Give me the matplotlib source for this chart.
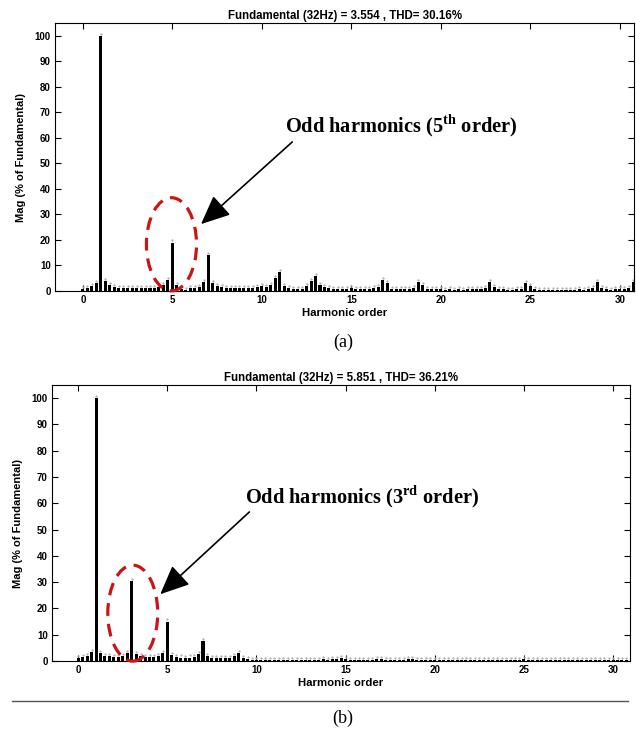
import numpy as np
import matplotlib
matplotlib.use("Agg")
import matplotlib.pyplot as plt
from matplotlib.patches import Ellipse
from matplotlib.lines import Line2D

plt.rcParams['font.family'] = ['Liberation Sans', 'DejaVu Sans']
plt.rcParams['mathtext.fontset'] = 'custom'
plt.rcParams['mathtext.rm'] = 'Liberation Serif:bold'
plt.rcParams['mathtext.bf'] = 'Liberation Serif:bold'

# harmonic bins (0.25 harmonic resolution)
harmonics = np.arange(0, 31, 0.25)

# (a) spectrum, % of fundamental
mag_a = [
    0.8, 1.2, 1.8, 3.2, 100, 4.0, 2.5, 1.5,          # 0 - 1.75
    1.2, 1.0, 1.0, 1.0, 1.0, 1.0, 1.0, 1.0,          # 2 - 3.75
    1.0, 1.5, 2.5, 4.2, 19.0, 2.2, 0.8, 0.5,         # 4 - 5.75
    1.0, 1.0, 1.5, 3.5, 14.0, 3.2, 1.8, 1.5,         # 6 - 7.75
    1.3, 1.2, 1.1, 1.1, 1.0, 1.1, 1.2, 1.5,          # 8 - 9.75
    1.8, 1.5, 2.5, 5.0, 7.5, 1.8, 1.0, 0.8,          # 10 - 11.75
    0.6, 0.8, 1.8, 4.0, 6.0, 2.2, 1.5, 1.0,          # 12 - 13.75
    0.8, 0.7, 0.8, 0.9, 1.0, 0.8, 0.8, 0.8,          # 14 - 15.75
    0.9, 1.0, 1.6, 4.2, 3.0, 0.8, 0.6, 0.6,          # 16 - 17.75
    0.6, 0.7, 1.0, 3.5, 2.5, 0.8, 0.6, 0.7,          # 18 - 19.75
    0.6, 0.5, 0.6, 0.5, 0.6, 0.5, 0.6, 0.7,          # 20 - 21.75
    0.6, 0.8, 1.2, 3.5, 1.5, 0.8, 0.6, 0.5,          # 22 - 23.75
    0.5, 0.6, 0.8, 3.0, 1.8, 0.6, 0.5, 0.5,          # 24 - 25.75
    0.4, 0.5, 0.4, 0.5, 0.5, 0.4, 0.5, 0.6,          # 26 - 27.75
    0.5, 0.6, 1.0, 3.5, 1.2, 0.6, 0.5, 0.6,          # 28 - 29.75
    0.7, 0.8, 1.2, 3.5,                              # 30 - 30.75
]

# (b) spectrum, % of fundamental
mag_b = [
    1.2, 1.5, 2.0, 3.5, 100, 3.0, 2.0, 1.8,          # 0 - 1.75
    1.5, 1.5, 1.8, 3.0, 30.5, 2.8, 2.0, 1.5,         # 2 - 3.75
    1.5, 1.5, 2.0, 3.0, 15.0, 2.2, 1.6, 1.3,         # 4 - 5.75
    1.2, 1.3, 1.5, 2.5, 7.5, 1.8, 1.2, 1.0,          # 6 - 7.75
    1.0, 1.0, 1.2, 1.8, 3.0, 1.0, 0.6, 0.5,          # 8 - 9.75
    0.5, 0.4, 0.5, 0.4, 0.5, 0.5, 0.4, 0.5,          # 10 - 11.75
    0.4, 0.5, 0.4, 0.4, 0.5, 0.4, 0.5, 0.6,          # 12 - 13.75
    0.5, 0.6, 0.9, 1.0, 0.8, 0.5, 0.4, 0.4,          # 14 - 15.75
    0.4, 0.5, 0.4, 0.6, 0.8, 0.5, 0.4, 0.4,          # 16 - 17.75
    0.5, 0.5, 0.7, 0.6, 0.4, 0.4, 0.3, 0.4,          # 18 - 19.75
    0.5, 0.4, 0.3, 0.4, 0.4, 0.3, 0.4, 0.4,          # 20 - 21.75
    0.3, 0.4, 0.4, 0.3, 0.4, 0.3, 0.4, 0.4,          # 22 - 23.75
    0.3, 0.4, 0.3, 0.4, 0.6, 0.4, 0.3, 0.4,          # 24 - 25.75
    0.3, 0.4, 0.3, 0.3, 0.4, 0.3, 0.4, 0.3,          # 26 - 27.75
    0.4, 0.3, 0.4, 0.5, 0.4, 0.3, 0.4, 0.3,          # 28 - 29.75
    0.4, 0.5, 0.4, 0.5,                              # 30 - 30.75
]

title_a = 'Fundamental (32Hz) = 3.554 , THD= 30.16%'
title_b = 'Fundamental (32Hz) = 5.851 , THD= 36.21%'
note_a = r'Odd harmonics (5$^{\mathrm{th}}$ order)'
note_b = r'Odd harmonics (3$^{\mathrm{rd}}$ order)'

fig = plt.figure(figsize=(6.36, 7.30), dpi=100)
W, H = 636.0, 730.0

def panel(rect, mags, title, xlim, note, note_xy, arrow_from, arrow_to, ell_c):
    ax = fig.add_axes(rect)
    ax.bar(harmonics, mags, width=0.17, color='black', edgecolor='none')
    # faint speckle left on top of the bins by the scope screenshot
    ax.plot(harmonics, np.array(mags) + 0.8, ls='none', marker='.', ms=1.2,
            color='#aaaaaa')
    ax.set_xlim(*xlim)
    ax.set_ylim(0, 105)
    ax.set_xticks(range(0, 31, 5))
    ax.set_yticks(range(0, 101, 10))
    ax.tick_params(direction='in', length=4, width=0.8, top=True, right=True,
                   labelsize=7, pad=3)
    for lab in ax.get_xticklabels() + ax.get_yticklabels():
        lab.set_fontweight('bold')
    for s in ax.spines.values():
        s.set_linewidth(0.8)
    ax.set_title(title, fontsize=8.3, fontweight='bold', pad=3)
    ax.set_xlabel('Harmonic order', fontsize=8.2, fontweight='bold', labelpad=2)
    ax.set_ylabel('Mag (% of Fundamental)', fontsize=8, fontweight='bold', labelpad=6)

    ax.add_patch(Ellipse(ell_c, 2.8, 36.5, fill=False, edgecolor='#cc1414',
                         lw=2.3, ls=(0, (4, 2.5)), clip_on=False, zorder=5))
    ax.annotate('', xy=arrow_to, xytext=arrow_from,
                arrowprops=dict(arrowstyle='-|>,head_length=0.9,head_width=0.4',
                                mutation_scale=20, lw=1.2, color='black',
                                shrinkA=0, shrinkB=0))
    ax.text(note_xy[0], note_xy[1], note, fontsize=14.7, fontweight='bold',
            family='Liberation Serif', ha='center', va='center')
    return ax

panel([55 / W, 1 - 291 / H, (634 - 55) / W, (291 - 23) / H], mag_a, title_a,
      (-1.56, 30.8), note_a, (17.8, 64.5), (11.7, 58.4), (6.6, 26.2), (4.95, 18.3))

panel([52 / W, 1 - 661 / H, (630 - 52) / W, (661 - 385) / H], mag_b, title_b,
      (-1.47, 30.95), note_b, (15.9, 62.5), (9.6, 56.7), (4.6, 25.4), (3.06, 18.2))

fig.text(343 / W, 1 - 342 / H, '(a)', family='Liberation Serif', fontsize=13,
         ha='center', va='center')
fig.text(343 / W, 1 - 718 / H, '(b)', family='Liberation Serif', fontsize=13,
         ha='center', va='center')
fig.add_artist(Line2D([12 / W, 628 / W], [1 - 701 / H, 1 - 701 / H],
                      color='#555555', lw=1.0))

fig.savefig('out.png', dpi=100)
